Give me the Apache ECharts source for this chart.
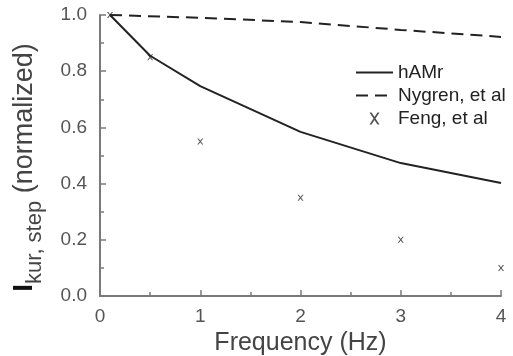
<!DOCTYPE html>
<html>
<head>
<meta charset="utf-8">
<script src="https://cdn.jsdelivr.net/npm/echarts@6/dist/echarts.min.js"></script>
<style>html,body{margin:0;padding:0;background:#fff}#c{width:513px;height:356px}</style>
</head>
<body>
<div id="c"></div>
<script>
var hamrData = [[0.1, 1.0], [0.5, 0.855], [1, 0.747], [2, 0.584], [3, 0.473], [4, 0.402]];
var nygrenData = [[0.1, 1.0], [1, 0.99], [2, 0.975], [3, 0.947], [4, 0.922]];
var fengData = [[0.1, 1.0], [0.5, 0.85], [1, 0.55], [2, 0.35], [3, 0.2], [4, 0.1]];
var seriesNames = ['hAMr', 'Nygren, et al', 'Feng, et al'];
var xTitle = 'Frequency (Hz)';

var FONT = '"Liberation Sans", Arial, Helvetica, sans-serif';
var AX = '#7a7a7a';
var INK = '#222';
var xPath = 'path://M0,0L2,0L10,12L8,12ZM8,0L10,0L2,12L0,12Z';

var chart = echarts.init(document.getElementById('c'), null, {renderer: 'canvas'});
chart.setOption({
  animation: false,
  backgroundColor: '#fff',
  grid: {left: 100, right: 12, top: 15, bottom: 60, containLabel: false, outerBoundsMode: 'none'},
  legend: {
    orient: 'vertical', left: 355, top: 63, padding: 0,
    itemWidth: 37, itemHeight: 12, itemGap: 4,
    textStyle: {fontFamily: FONT, fontSize: 19, color: INK, lineHeight: 19},
    data: [
      {name: seriesNames[0], itemStyle: {opacity: 0}},
      {name: seriesNames[1], itemStyle: {opacity: 0}},
      {name: seriesNames[2], icon: xPath}
    ]
  },
  xAxis: {
    type: 'value', min: 0, max: 4, interval: 1,
    name: xTitle, nameLocation: 'middle', nameGap: 35,
    nameTextStyle: {fontFamily: FONT, fontSize: 25, color: '#444'},
    axisLine: {show: true, lineStyle: {color: AX, width: 2}},
    axisTick: {show: true, inside: true, length: 6, lineStyle: {color: AX, width: 1.5}},
    minorTick: {show: true, splitNumber: 2, length: 4, lineStyle: {color: AX, width: 1.5}},
    axisLabel: {fontFamily: FONT, fontSize: 19, color: '#555', margin: 11},
    splitLine: {show: false}
  },
  yAxis: {
    type: 'value', min: 0, max: 1, interval: 0.2,
    name: '{a|I}{b|kur, step}{c| (normalized)}',
    nameLocation: 'middle', nameGap: 54, nameRotate: 90,
    nameTextStyle: {
      fontFamily: FONT, color: '#333', padding: [0, 24, 0, 0],
      rich: {
        a: {fontFamily: FONT, fontSize: 28, fontWeight: 'bold', color: '#111', lineHeight: 28, verticalAlign: 'bottom', padding: [0, 0, 8, 0]},
        b: {fontFamily: FONT, fontSize: 22, color: '#444', lineHeight: 22, verticalAlign: 'bottom'},
        c: {fontFamily: FONT, fontSize: 27, color: '#444', lineHeight: 27, verticalAlign: 'bottom', padding: [0, 0, 8, 0]}
      }
    },
    axisLine: {show: true, lineStyle: {color: AX, width: 2}},
    axisTick: {show: true, inside: true, length: 6, lineStyle: {color: AX, width: 1.5}},
    minorTick: {show: true, splitNumber: 2, length: 4, lineStyle: {color: AX, width: 1.5}},
    axisLabel: {fontFamily: FONT, fontSize: 19, color: '#555', margin: 13,
      formatter: function (v) { return v.toFixed(1); }},
    splitLine: {show: false}
  },
  series: [
    {name: seriesNames[0], type: 'line', data: hamrData, symbol: 'none', smooth: false,
      lineStyle: {color: INK, width: 2}, itemStyle: {color: INK}},
    {name: seriesNames[1], type: 'line', data: nygrenData, symbol: 'none', smooth: false,
      lineStyle: {color: INK, width: 2, type: [12, 7]}, itemStyle: {color: INK}},
    {name: seriesNames[2], type: 'scatter', data: fengData, symbol: xPath, symbolSize: [6, 6],
      itemStyle: {color: INK}}
  ]
});
</script>
</body>
</html>
